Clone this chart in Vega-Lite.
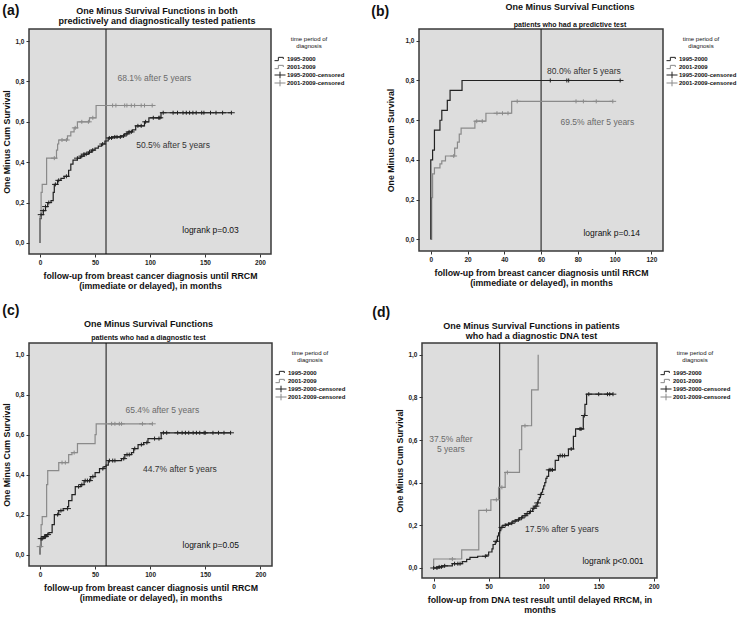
{
  "$schema": "https://vega.github.io/schema/vega-lite/v6.json",
  "padding": {"top": 1, "left": 2, "right": 0, "bottom": 0},
  "background": "white",
  "config": {
    "font": "Liberation Sans",
    "view": {"fill": "#dddddd", "stroke": "#3a3a3a", "strokeWidth": 1.5},
    "axis": {"domain": false, "grid": false, "tickColor": "#333333", "tickSize": 3, "labelFontSize": 6.5, "labelFontWeight": "bold", "labelColor": "#222222", "labelPadding": 2, "titleFontSize": 8.8, "titleFontWeight": "bold", "titleColor": "#111111", "titleLineHeight": 10},
    "axisX": {"titlePadding": 6},
    "axisY": {"titlePadding": 3},
    "title": {"fontSize": 9, "fontWeight": "bold", "color": "#111111", "lineHeight": 10, "subtitleFontSize": 7, "subtitleFontWeight": "bold", "subtitleColor": "#111111", "frame": "group"},
    "legend": {"orient": "right", "offset": -4, "padding": 7, "titleFontSize": 6, "titleFontWeight": "normal", "titleColor": "#111111", "titleAlign": "center", "titleAnchor": "middle", "titleLineHeight": 7, "titlePadding": 6, "labelFontSize": 6, "labelFontWeight": "bold", "labelColor": "#111111", "labelOffset": 1, "symbolSize": 121, "symbolStrokeWidth": 1, "rowPadding": 0, "clipHeight": 8},
    "concat": {"spacing": 18}
  },
  "datasets": {
    "ref": [{"t": 60}],
    "a_line": [
      {"t":0,"v":0,"series":"1995-2000"},{"t":0,"v":0.12,"series":"1995-2000"},{"t":1,"v":0.14,"series":"1995-2000"},{"t":3,"v":0.16,"series":"1995-2000"},{"t":5,"v":0.18,"series":"1995-2000"},{"t":7,"v":0.2,"series":"1995-2000"},{"t":10,"v":0.21,"series":"1995-2000"},{"t":12,"v":0.25,"series":"1995-2000"},{"t":13,"v":0.29,"series":"1995-2000"},{"t":16,"v":0.31,"series":"1995-2000"},{"t":19,"v":0.32,"series":"1995-2000"},{"t":22,"v":0.33,"series":"1995-2000"},{"t":26,"v":0.36,"series":"1995-2000"},{"t":28,"v":0.39,"series":"1995-2000"},{"t":30,"v":0.41,"series":"1995-2000"},{"t":34,"v":0.42,"series":"1995-2000"},{"t":37,"v":0.43,"series":"1995-2000"},{"t":40,"v":0.44,"series":"1995-2000"},{"t":44,"v":0.45,"series":"1995-2000"},{"t":47,"v":0.46,"series":"1995-2000"},{"t":50,"v":0.47,"series":"1995-2000"},{"t":53,"v":0.48,"series":"1995-2000"},{"t":56,"v":0.49,"series":"1995-2000"},{"t":59,"v":0.505,"series":"1995-2000"},{"t":62,"v":0.52,"series":"1995-2000"},{"t":66,"v":0.525,"series":"1995-2000"},{"t":74,"v":0.53,"series":"1995-2000"},{"t":77,"v":0.54,"series":"1995-2000"},{"t":80,"v":0.55,"series":"1995-2000"},{"t":84,"v":0.56,"series":"1995-2000"},{"t":87,"v":0.58,"series":"1995-2000"},{"t":95,"v":0.6,"series":"1995-2000"},{"t":99,"v":0.62,"series":"1995-2000"},{"t":110,"v":0.645,"series":"1995-2000"},{"t":174,"v":0.645,"series":"1995-2000"},
      {"t":0,"v":0,"series":"2001-2009"},{"t":0,"v":0.13,"series":"2001-2009"},{"t":1,"v":0.25,"series":"2001-2009"},{"t":2,"v":0.29,"series":"2001-2009"},{"t":6,"v":0.42,"series":"2001-2009"},{"t":15,"v":0.46,"series":"2001-2009"},{"t":16,"v":0.49,"series":"2001-2009"},{"t":17,"v":0.51,"series":"2001-2009"},{"t":25,"v":0.53,"series":"2001-2009"},{"t":28,"v":0.55,"series":"2001-2009"},{"t":31,"v":0.57,"series":"2001-2009"},{"t":34,"v":0.6,"series":"2001-2009"},{"t":45,"v":0.62,"series":"2001-2009"},{"t":51,"v":0.681,"series":"2001-2009"},{"t":102,"v":0.681,"series":"2001-2009"}
    ],
    "a_cens": [
      {"t":1,"v":0.14,"series":"1995-2000-censored"},{"t":3,"v":0.16,"series":"1995-2000-censored"},{"t":5,"v":0.18,"series":"1995-2000-censored"},{"t":8,"v":0.2,"series":"1995-2000-censored"},{"t":14,"v":0.29,"series":"1995-2000-censored"},{"t":17,"v":0.31,"series":"1995-2000-censored"},{"t":24,"v":0.33,"series":"1995-2000-censored"},{"t":34,"v":0.42,"series":"1995-2000-censored"},{"t":38,"v":0.43,"series":"1995-2000-censored"},{"t":40,"v":0.44,"series":"1995-2000-censored"},{"t":42,"v":0.44,"series":"1995-2000-censored"},{"t":45,"v":0.45,"series":"1995-2000-censored"},{"t":48,"v":0.46,"series":"1995-2000-censored"},{"t":57,"v":0.49,"series":"1995-2000-censored"},{"t":63,"v":0.52,"series":"1995-2000-censored"},{"t":65,"v":0.52,"series":"1995-2000-censored"},{"t":68,"v":0.525,"series":"1995-2000-censored"},{"t":70,"v":0.525,"series":"1995-2000-censored"},{"t":73,"v":0.525,"series":"1995-2000-censored"},{"t":76,"v":0.53,"series":"1995-2000-censored"},{"t":79,"v":0.54,"series":"1995-2000-censored"},{"t":81,"v":0.55,"series":"1995-2000-censored"},{"t":83,"v":0.55,"series":"1995-2000-censored"},{"t":89,"v":0.58,"series":"1995-2000-censored"},{"t":92,"v":0.58,"series":"1995-2000-censored"},{"t":96,"v":0.6,"series":"1995-2000-censored"},{"t":103,"v":0.62,"series":"1995-2000-censored"},{"t":108,"v":0.62,"series":"1995-2000-censored"},{"t":109,"v":0.62,"series":"1995-2000-censored"},{"t":112,"v":0.645,"series":"1995-2000-censored"},{"t":121,"v":0.645,"series":"1995-2000-censored"},{"t":125,"v":0.645,"series":"1995-2000-censored"},{"t":130,"v":0.645,"series":"1995-2000-censored"},{"t":133,"v":0.645,"series":"1995-2000-censored"},{"t":136,"v":0.645,"series":"1995-2000-censored"},{"t":139,"v":0.645,"series":"1995-2000-censored"},{"t":142,"v":0.645,"series":"1995-2000-censored"},{"t":147,"v":0.645,"series":"1995-2000-censored"},{"t":149,"v":0.645,"series":"1995-2000-censored"},{"t":155,"v":0.645,"series":"1995-2000-censored"},{"t":160,"v":0.645,"series":"1995-2000-censored"},{"t":166,"v":0.645,"series":"1995-2000-censored"},{"t":174,"v":0.645,"series":"1995-2000-censored"},
      {"t":13,"v":0.42,"series":"2001-2009-censored"},{"t":20,"v":0.51,"series":"2001-2009-censored"},{"t":24,"v":0.51,"series":"2001-2009-censored"},{"t":32,"v":0.57,"series":"2001-2009-censored"},{"t":38,"v":0.6,"series":"2001-2009-censored"},{"t":44,"v":0.6,"series":"2001-2009-censored"},{"t":48,"v":0.62,"series":"2001-2009-censored"},{"t":66,"v":0.681,"series":"2001-2009-censored"},{"t":69,"v":0.681,"series":"2001-2009-censored"},{"t":77,"v":0.681,"series":"2001-2009-censored"},{"t":79,"v":0.681,"series":"2001-2009-censored"},{"t":83,"v":0.681,"series":"2001-2009-censored"},{"t":86,"v":0.681,"series":"2001-2009-censored"},{"t":92,"v":0.681,"series":"2001-2009-censored"},{"t":95,"v":0.681,"series":"2001-2009-censored"},{"t":102,"v":0.681,"series":"2001-2009-censored"}
    ],
    "a_text": [
      {"t":104,"v":0.817,"label":"68.1% after 5 years","series":"2001-2009"},
      {"t":121,"v":0.487,"label":"50.5% after 5 years","series":"1995-2000"},
      {"t":155,"v":0.064,"label":"logrank p=0.03","series":"test"}
    ],
    "b_line": [
      {"t":0,"v":0,"series":"2001-2009"},{"t":0.5,"v":0.21,"series":"2001-2009"},{"t":1,"v":0.33,"series":"2001-2009"},{"t":2,"v":0.36,"series":"2001-2009"},{"t":5,"v":0.38,"series":"2001-2009"},{"t":6,"v":0.395,"series":"2001-2009"},{"t":8,"v":0.42,"series":"2001-2009"},{"t":13,"v":0.46,"series":"2001-2009"},{"t":14.5,"v":0.49,"series":"2001-2009"},{"t":15.5,"v":0.53,"series":"2001-2009"},{"t":16.5,"v":0.56,"series":"2001-2009"},{"t":24,"v":0.595,"series":"2001-2009"},{"t":30,"v":0.635,"series":"2001-2009"},{"t":44,"v":0.695,"series":"2001-2009"},{"t":99,"v":0.695,"series":"2001-2009"},
      {"t":0,"v":0,"series":"1995-2000"},{"t":0,"v":0.4,"series":"1995-2000"},{"t":1,"v":0.45,"series":"1995-2000"},{"t":2,"v":0.55,"series":"1995-2000"},{"t":5,"v":0.6,"series":"1995-2000"},{"t":6,"v":0.65,"series":"1995-2000"},{"t":9,"v":0.7,"series":"1995-2000"},{"t":10.5,"v":0.75,"series":"1995-2000"},{"t":17,"v":0.8,"series":"1995-2000"},{"t":103,"v":0.8,"series":"1995-2000"}
    ],
    "b_cens": [
      {"t":65,"v":0.8,"series":"1995-2000-censored"},{"t":74,"v":0.8,"series":"1995-2000-censored"},{"t":75,"v":0.8,"series":"1995-2000-censored"},{"t":103,"v":0.8,"series":"1995-2000-censored"},
      {"t":12.5,"v":0.42,"series":"2001-2009-censored"},{"t":25,"v":0.595,"series":"2001-2009-censored"},{"t":28,"v":0.595,"series":"2001-2009-censored"},{"t":36,"v":0.635,"series":"2001-2009-censored"},{"t":39,"v":0.635,"series":"2001-2009-censored"},{"t":42,"v":0.635,"series":"2001-2009-censored"},{"t":47,"v":0.695,"series":"2001-2009-censored"},{"t":79,"v":0.695,"series":"2001-2009-censored"},{"t":83,"v":0.695,"series":"2001-2009-censored"},{"t":90,"v":0.695,"series":"2001-2009-censored"},{"t":99,"v":0.695,"series":"2001-2009-censored"}
    ],
    "b_text": [
      {"t":83.3,"v":0.849,"label":"80.0% after 5 years","series":"1995-2000"},
      {"t":90.6,"v":0.59,"label":"69.5% after 5 years","series":"2001-2009"},
      {"t":98.4,"v":0.032,"label":"logrank p=0.14","series":"test"}
    ],
    "c_line": [
      {"t":0,"v":0,"series":"1995-2000"},{"t":0,"v":0.04,"series":"1995-2000"},{"t":1,"v":0.08,"series":"1995-2000"},{"t":3,"v":0.09,"series":"1995-2000"},{"t":6,"v":0.1,"series":"1995-2000"},{"t":8,"v":0.11,"series":"1995-2000"},{"t":11,"v":0.15,"series":"1995-2000"},{"t":13,"v":0.2,"series":"1995-2000"},{"t":17,"v":0.22,"series":"1995-2000"},{"t":21,"v":0.23,"series":"1995-2000"},{"t":25,"v":0.24,"series":"1995-2000"},{"t":26,"v":0.27,"series":"1995-2000"},{"t":29,"v":0.3,"series":"1995-2000"},{"t":32,"v":0.34,"series":"1995-2000"},{"t":37,"v":0.35,"series":"1995-2000"},{"t":40,"v":0.37,"series":"1995-2000"},{"t":46,"v":0.39,"series":"1995-2000"},{"t":50,"v":0.41,"series":"1995-2000"},{"t":54,"v":0.43,"series":"1995-2000"},{"t":58,"v":0.44,"series":"1995-2000"},{"t":60,"v":0.447,"series":"1995-2000"},{"t":62,"v":0.47,"series":"1995-2000"},{"t":74,"v":0.48,"series":"1995-2000"},{"t":77,"v":0.5,"series":"1995-2000"},{"t":83,"v":0.51,"series":"1995-2000"},{"t":85,"v":0.53,"series":"1995-2000"},{"t":89,"v":0.55,"series":"1995-2000"},{"t":94,"v":0.56,"series":"1995-2000"},{"t":98,"v":0.58,"series":"1995-2000"},{"t":110,"v":0.609,"series":"1995-2000"},{"t":173,"v":0.609,"series":"1995-2000"},
      {"t":0,"v":0,"series":"2001-2009"},{"t":0,"v":0.04,"series":"2001-2009"},{"t":1,"v":0.15,"series":"2001-2009"},{"t":2,"v":0.19,"series":"2001-2009"},{"t":6,"v":0.35,"series":"2001-2009"},{"t":7,"v":0.42,"series":"2001-2009"},{"t":17,"v":0.46,"series":"2001-2009"},{"t":26,"v":0.5,"series":"2001-2009"},{"t":29,"v":0.51,"series":"2001-2009"},{"t":34,"v":0.555,"series":"2001-2009"},{"t":50,"v":0.6,"series":"2001-2009"},{"t":51,"v":0.654,"series":"2001-2009"},{"t":102,"v":0.654,"series":"2001-2009"}
    ],
    "c_cens": [
      {"t":1,"v":0.08,"series":"1995-2000-censored"},{"t":2,"v":0.08,"series":"1995-2000-censored"},{"t":4,"v":0.09,"series":"1995-2000-censored"},{"t":5,"v":0.09,"series":"1995-2000-censored"},{"t":7,"v":0.1,"series":"1995-2000-censored"},{"t":16,"v":0.2,"series":"1995-2000-censored"},{"t":19,"v":0.22,"series":"1995-2000-censored"},{"t":25,"v":0.23,"series":"1995-2000-censored"},{"t":35,"v":0.34,"series":"1995-2000-censored"},{"t":38,"v":0.35,"series":"1995-2000-censored"},{"t":41,"v":0.37,"series":"1995-2000-censored"},{"t":43,"v":0.37,"series":"1995-2000-censored"},{"t":45,"v":0.37,"series":"1995-2000-censored"},{"t":48,"v":0.39,"series":"1995-2000-censored"},{"t":57,"v":0.43,"series":"1995-2000-censored"},{"t":63,"v":0.47,"series":"1995-2000-censored"},{"t":66,"v":0.47,"series":"1995-2000-censored"},{"t":68,"v":0.47,"series":"1995-2000-censored"},{"t":76,"v":0.48,"series":"1995-2000-censored"},{"t":79,"v":0.5,"series":"1995-2000-censored"},{"t":81,"v":0.5,"series":"1995-2000-censored"},{"t":86,"v":0.53,"series":"1995-2000-censored"},{"t":92,"v":0.55,"series":"1995-2000-censored"},{"t":97,"v":0.56,"series":"1995-2000-censored"},{"t":104,"v":0.58,"series":"1995-2000-censored"},{"t":108,"v":0.58,"series":"1995-2000-censored"},{"t":112,"v":0.609,"series":"1995-2000-censored"},{"t":115,"v":0.609,"series":"1995-2000-censored"},{"t":125,"v":0.609,"series":"1995-2000-censored"},{"t":129,"v":0.609,"series":"1995-2000-censored"},{"t":132,"v":0.609,"series":"1995-2000-censored"},{"t":135,"v":0.609,"series":"1995-2000-censored"},{"t":139,"v":0.609,"series":"1995-2000-censored"},{"t":142,"v":0.609,"series":"1995-2000-censored"},{"t":145,"v":0.609,"series":"1995-2000-censored"},{"t":149,"v":0.609,"series":"1995-2000-censored"},{"t":150,"v":0.609,"series":"1995-2000-censored"},{"t":157,"v":0.609,"series":"1995-2000-censored"},{"t":162,"v":0.609,"series":"1995-2000-censored"},{"t":167,"v":0.609,"series":"1995-2000-censored"},{"t":173,"v":0.609,"series":"1995-2000-censored"},
      {"t":0,"v":0.04,"series":"2001-2009-censored"},{"t":20,"v":0.46,"series":"2001-2009-censored"},{"t":23,"v":0.46,"series":"2001-2009-censored"},{"t":31,"v":0.51,"series":"2001-2009-censored"},{"t":65,"v":0.654,"series":"2001-2009-censored"},{"t":68,"v":0.654,"series":"2001-2009-censored"},{"t":72,"v":0.654,"series":"2001-2009-censored"},{"t":74,"v":0.654,"series":"2001-2009-censored"},{"t":93,"v":0.654,"series":"2001-2009-censored"},{"t":102,"v":0.654,"series":"2001-2009-censored"}
    ],
    "c_text": [
      {"t":111,"v":0.724,"label":"65.4% after 5 years","series":"2001-2009"},
      {"t":127,"v":0.429,"label":"44.7% after 5 years","series":"1995-2000"},
      {"t":155,"v":0.046,"label":"logrank p=0.05","series":"test"}
    ],
    "d_line": [
      {"t":0,"v":0,"series":"2001-2009"},{"t":0,"v":0.042,"series":"2001-2009"},{"t":25.5,"v":0.085,"series":"2001-2009"},{"t":41,"v":0.27,"series":"2001-2009"},{"t":52,"v":0.32,"series":"2001-2009"},{"t":59,"v":0.378,"series":"2001-2009"},{"t":65,"v":0.448,"series":"2001-2009"},{"t":78,"v":0.555,"series":"2001-2009"},{"t":80,"v":0.667,"series":"2001-2009"},{"t":89,"v":0.835,"series":"2001-2009"},{"t":95,"v":1.0,"series":"2001-2009"},
      {"t":0,"v":0,"series":"1995-2000"},{"t":4,"v":0.005,"series":"1995-2000"},{"t":8,"v":0.01,"series":"1995-2000"},{"t":17,"v":0.02,"series":"1995-2000"},{"t":26,"v":0.03,"series":"1995-2000"},{"t":30,"v":0.04,"series":"1995-2000"},{"t":33,"v":0.05,"series":"1995-2000"},{"t":40,"v":0.055,"series":"1995-2000"},{"t":48,"v":0.06,"series":"1995-2000"},{"t":50,"v":0.075,"series":"1995-2000"},{"t":53,"v":0.09,"series":"1995-2000"},{"t":54,"v":0.11,"series":"1995-2000"},{"t":56,"v":0.125,"series":"1995-2000"},{"t":58,"v":0.15,"series":"1995-2000"},{"t":59,"v":0.165,"series":"1995-2000"},{"t":60,"v":0.175,"series":"1995-2000"},{"t":61,"v":0.19,"series":"1995-2000"},{"t":63,"v":0.2,"series":"1995-2000"},{"t":66,"v":0.205,"series":"1995-2000"},{"t":69,"v":0.21,"series":"1995-2000"},{"t":72,"v":0.22,"series":"1995-2000"},{"t":75,"v":0.226,"series":"1995-2000"},{"t":78,"v":0.235,"series":"1995-2000"},{"t":81,"v":0.245,"series":"1995-2000"},{"t":84,"v":0.255,"series":"1995-2000"},{"t":87,"v":0.265,"series":"1995-2000"},{"t":90,"v":0.28,"series":"1995-2000"},{"t":92,"v":0.29,"series":"1995-2000"},{"t":94,"v":0.305,"series":"1995-2000"},{"t":95,"v":0.32,"series":"1995-2000"},{"t":96,"v":0.33,"series":"1995-2000"},{"t":97,"v":0.345,"series":"1995-2000"},{"t":98,"v":0.355,"series":"1995-2000"},{"t":99,"v":0.37,"series":"1995-2000"},{"t":100,"v":0.385,"series":"1995-2000"},{"t":101,"v":0.4,"series":"1995-2000"},{"t":102,"v":0.42,"series":"1995-2000"},{"t":103,"v":0.43,"series":"1995-2000"},{"t":104.5,"v":0.46,"series":"1995-2000"},{"t":110.5,"v":0.505,"series":"1995-2000"},{"t":113.5,"v":0.527,"series":"1995-2000"},{"t":122.5,"v":0.558,"series":"1995-2000"},{"t":127,"v":0.617,"series":"1995-2000"},{"t":129,"v":0.652,"series":"1995-2000"},{"t":136,"v":0.715,"series":"1995-2000"},{"t":137.5,"v":0.767,"series":"1995-2000"},{"t":139,"v":0.815,"series":"1995-2000"},{"t":163,"v":0.815,"series":"1995-2000"}
    ],
    "d_cens": [
      {"t":0,"v":0,"series":"1995-2000-censored"},{"t":3,"v":0,"series":"1995-2000-censored"},{"t":5,"v":0.005,"series":"1995-2000-censored"},{"t":7,"v":0.005,"series":"1995-2000-censored"},{"t":10,"v":0.01,"series":"1995-2000-censored"},{"t":19,"v":0.02,"series":"1995-2000-censored"},{"t":22,"v":0.02,"series":"1995-2000-censored"},{"t":24,"v":0.02,"series":"1995-2000-censored"},{"t":47,"v":0.055,"series":"1995-2000-censored"},{"t":57,"v":0.125,"series":"1995-2000-censored"},{"t":62,"v":0.19,"series":"1995-2000-censored"},{"t":65,"v":0.2,"series":"1995-2000-censored"},{"t":68,"v":0.205,"series":"1995-2000-censored"},{"t":71,"v":0.21,"series":"1995-2000-censored"},{"t":74,"v":0.22,"series":"1995-2000-censored"},{"t":77,"v":0.226,"series":"1995-2000-censored"},{"t":80,"v":0.235,"series":"1995-2000-censored"},{"t":83,"v":0.245,"series":"1995-2000-censored"},{"t":85,"v":0.255,"series":"1995-2000-censored"},{"t":88,"v":0.265,"series":"1995-2000-censored"},{"t":91,"v":0.28,"series":"1995-2000-censored"},{"t":93,"v":0.29,"series":"1995-2000-censored"},{"t":94.5,"v":0.305,"series":"1995-2000-censored"},{"t":97.5,"v":0.345,"series":"1995-2000-censored"},{"t":105,"v":0.46,"series":"1995-2000-censored"},{"t":106.5,"v":0.46,"series":"1995-2000-censored"},{"t":108,"v":0.46,"series":"1995-2000-censored"},{"t":115,"v":0.527,"series":"1995-2000-censored"},{"t":117,"v":0.527,"series":"1995-2000-censored"},{"t":119,"v":0.527,"series":"1995-2000-censored"},{"t":125,"v":0.558,"series":"1995-2000-censored"},{"t":133,"v":0.652,"series":"1995-2000-censored"},{"t":134,"v":0.652,"series":"1995-2000-censored"},{"t":137,"v":0.715,"series":"1995-2000-censored"},{"t":141,"v":0.815,"series":"1995-2000-censored"},{"t":150,"v":0.815,"series":"1995-2000-censored"},{"t":158,"v":0.815,"series":"1995-2000-censored"},{"t":160,"v":0.815,"series":"1995-2000-censored"},{"t":163,"v":0.815,"series":"1995-2000-censored"},
      {"t":17,"v":0.042,"series":"2001-2009-censored"},{"t":48,"v":0.27,"series":"2001-2009-censored"},{"t":57,"v":0.32,"series":"2001-2009-censored"},{"t":62,"v":0.378,"series":"2001-2009-censored"},{"t":67,"v":0.448,"series":"2001-2009-censored"},{"t":83,"v":0.667,"series":"2001-2009-censored"}
    ],
    "d_text": [
      {"t":15.7,"v":0.603,"label":"37.5% after\n5 years","series":"2001-2009"},
      {"t":116.5,"v":0.183,"label":"17.5% after 5 years","series":"1995-2000"},
      {"t":163,"v":0.034,"label":"logrank p<0.001","series":"test"}
    ]
  },
  "resolve": {"scale": {"color": "independent", "shape": "independent"}, "legend": {"color": "independent", "shape": "independent"}},
  "spacing": 12,
  "vconcat": [
    {
      "resolve": {"scale": {"color": "independent", "shape": "independent"}, "legend": {"color": "independent", "shape": "independent"}},
      "hconcat": [
        {
          "title": {"text": "(a)", "anchor": "start", "frame": "bounds", "fontSize": 14, "offset": -12},
          "resolve": {"scale": {"color": "independent", "shape": "independent"}, "legend": {"color": "independent", "shape": "independent"}},
          "vconcat": [
            {
              "width": 242, "height": 225,
              "title": {"text": ["One Minus Survival Functions in both", "predictively and diagnostically tested patients"], "offset": 3, "dx": 7},
              "layer": [
                {"data": {"name": "ref"}, "mark": {"type": "rule", "color": "#111111", "strokeWidth": 1}, "encoding": {"x": {"field": "t", "type": "quantitative", "scale": {"domain": [-10, 210], "nice": false, "zero": false}}}},
                {"data": {"name": "a_line"}, "mark": {"type": "line", "interpolate": "step-after", "strokeWidth": 1.2},
                 "encoding": {
                   "x": {"field": "t", "type": "quantitative", "scale": {"domain": [-10, 210], "nice": false, "zero": false}, "axis": {"values": [0, 50, 100, 150, 200], "title": ["follow-up from breast cancer diagnosis until RRCM", "(immediate or delayed), in months"]}},
                   "y": {"field": "v", "type": "quantitative", "scale": {"domain": [-0.055, 1.06], "nice": false, "zero": false}, "axis": {"values": [0, 0.2, 0.4, 0.6, 0.8, 1], "labelExpr": "replace(format(datum.value, '.1f'), '.', ',')", "title": "One Minus Cum Survival"}},
                   "detail": {"field": "series"},
                   "order": {"value": null},
                   "color": {"condition": {"test": "datum.series === '1995-2000'", "value": "#222222"}, "value": "#8a8a8a"}
                 }},
                {"data": {"name": "a_cens"}, "mark": {"type": "point", "filled": false, "size": 45, "strokeWidth": 1, "opacity": 1},
                 "encoding": {
                   "x": {"field": "t", "type": "quantitative"},
                   "y": {"field": "v", "type": "quantitative"},
                   "color": {"field": "series", "type": "nominal", "scale": {"domain": ["1995-2000", "2001-2009", "1995-2000-censored", "2001-2009-censored"], "range": ["#222222", "#8a8a8a", "#222222", "#8a8a8a"]}, "legend": {"title": ["time period of", "diagnosis"]}},
                   "shape": {"field": "series", "type": "nominal", "scale": {"domain": ["1995-2000", "2001-2009", "1995-2000-censored", "2001-2009-censored"], "range": ["M-1,0.3H-0.3V-0.3H0.6V0", "M-1,0.3H-0.3V-0.3H0.6V0", "M-1,0H1M0,-0.6V0.6", "M-1,0H1M0,-0.6V0.6"]}, "legend": {"title": ["time period of", "diagnosis"]}}
                 }},
                {"data": {"name": "a_text"}, "mark": {"type": "text", "fontSize": 8.5, "lineBreak": "\n", "lineHeight": 10},
                 "encoding": {
                   "x": {"field": "t", "type": "quantitative"},
                   "y": {"field": "v", "type": "quantitative"},
                   "text": {"field": "label"},
                   "color": {"condition": [{"test": "datum.series === '2001-2009'", "value": "#6a6a6a"}, {"test": "datum.series === '1995-2000'", "value": "#333333"}], "value": "#111111"}
                 }}
              ]
            }
          ]
        },
        {
          "title": {"text": "(b)", "anchor": "start", "frame": "bounds", "fontSize": 14, "offset": -17, "dx": -15},
          "resolve": {"scale": {"color": "independent", "shape": "independent"}, "legend": {"color": "independent", "shape": "independent"}},
          "vconcat": [
            {
              "width": 244, "height": 222,
              "title": {"text": "One Minus Survival Functions", "subtitle": "patients who had a predictive test", "offset": 1, "dx": 29, "subtitlePadding": 9},
              "layer": [
                {"data": {"name": "ref"}, "mark": {"type": "rule", "color": "#111111", "strokeWidth": 1}, "encoding": {"x": {"field": "t", "type": "quantitative", "scale": {"domain": [-6.4, 126.3], "nice": false, "zero": false}}}},
                {"data": {"name": "b_line"}, "mark": {"type": "line", "interpolate": "step-after", "strokeWidth": 1.2},
                 "encoding": {
                   "x": {"field": "t", "type": "quantitative", "scale": {"domain": [-6.4, 126.3], "nice": false, "zero": false}, "axis": {"values": [0, 20, 40, 60, 80, 100, 120], "title": ["follow-up from breast cancer diagnosis until RRCM", "(immediate or delayed), in months"]}},
                   "y": {"field": "v", "type": "quantitative", "scale": {"domain": [-0.058, 1.059], "nice": false, "zero": false}, "axis": {"values": [0, 0.2, 0.4, 0.6, 0.8, 1], "labelExpr": "replace(format(datum.value, '.1f'), '.', ',')", "title": "One Minus Cum Survival", "titlePadding": 9}},
                   "detail": {"field": "series"},
                   "order": {"value": null},
                   "color": {"condition": {"test": "datum.series === '1995-2000'", "value": "#222222"}, "value": "#8a8a8a"}
                 }},
                {"data": {"name": "b_cens"}, "mark": {"type": "point", "filled": false, "size": 45, "strokeWidth": 1, "opacity": 1},
                 "encoding": {
                   "x": {"field": "t", "type": "quantitative"},
                   "y": {"field": "v", "type": "quantitative"},
                   "color": {"field": "series", "type": "nominal", "scale": {"domain": ["1995-2000", "2001-2009", "1995-2000-censored", "2001-2009-censored"], "range": ["#222222", "#8a8a8a", "#222222", "#8a8a8a"]}, "legend": {"title": ["time period of", "diagnosis"]}},
                   "shape": {"field": "series", "type": "nominal", "scale": {"domain": ["1995-2000", "2001-2009", "1995-2000-censored", "2001-2009-censored"], "range": ["M-1,0.3H-0.3V-0.3H0.6V0", "M-1,0.3H-0.3V-0.3H0.6V0", "M-1,0H1M0,-0.6V0.6", "M-1,0H1M0,-0.6V0.6"]}, "legend": {"title": ["time period of", "diagnosis"]}}
                 }},
                {"data": {"name": "b_text"}, "mark": {"type": "text", "fontSize": 8.5, "lineBreak": "\n", "lineHeight": 10},
                 "encoding": {
                   "x": {"field": "t", "type": "quantitative"},
                   "y": {"field": "v", "type": "quantitative"},
                   "text": {"field": "label"},
                   "color": {"condition": [{"test": "datum.series === '2001-2009'", "value": "#6a6a6a"}, {"test": "datum.series === '1995-2000'", "value": "#333333"}], "value": "#111111"}
                 }}
              ]
            }
          ]
        }
      ]
    },
    {
      "resolve": {"scale": {"color": "independent", "shape": "independent"}, "legend": {"color": "independent", "shape": "independent"}},
      "hconcat": [
        {
          "title": {"text": "(c)", "anchor": "start", "frame": "bounds", "fontSize": 14, "offset": 1},
          "resolve": {"scale": {"color": "independent", "shape": "independent"}, "legend": {"color": "independent", "shape": "independent"}},
          "vconcat": [
            {
              "width": 243, "height": 223,
              "title": {"text": "One Minus Survival Functions", "subtitle": "patients who had a diagnostic test", "offset": 1.5, "dx": -2, "subtitlePadding": 5},
              "layer": [
                {"data": {"name": "ref"}, "mark": {"type": "rule", "color": "#111111", "strokeWidth": 1}, "encoding": {"x": {"field": "t", "type": "quantitative", "scale": {"domain": [-10, 210.6], "nice": false, "zero": false}}}},
                {"data": {"name": "c_line"}, "mark": {"type": "line", "interpolate": "step-after", "strokeWidth": 1.2},
                 "encoding": {
                   "x": {"field": "t", "type": "quantitative", "scale": {"domain": [-10, 210.6], "nice": false, "zero": false}, "axis": {"values": [0, 50, 100, 150, 200], "title": ["follow-up from breast cancer diagnosis until RRCM", "(immediate or delayed), in months"]}},
                   "y": {"field": "v", "type": "quantitative", "scale": {"domain": [-0.057, 1.058], "nice": false, "zero": false}, "axis": {"values": [0, 0.2, 0.4, 0.6, 0.8, 1], "labelExpr": "replace(format(datum.value, '.1f'), '.', ',')", "title": "One Minus Cum Survival"}},
                   "detail": {"field": "series"},
                   "order": {"value": null},
                   "color": {"condition": {"test": "datum.series === '1995-2000'", "value": "#222222"}, "value": "#8a8a8a"}
                 }},
                {"data": {"name": "c_cens"}, "mark": {"type": "point", "filled": false, "size": 45, "strokeWidth": 1, "opacity": 1},
                 "encoding": {
                   "x": {"field": "t", "type": "quantitative"},
                   "y": {"field": "v", "type": "quantitative"},
                   "color": {"field": "series", "type": "nominal", "scale": {"domain": ["1995-2000", "2001-2009", "1995-2000-censored", "2001-2009-censored"], "range": ["#222222", "#8a8a8a", "#222222", "#8a8a8a"]}, "legend": {"title": ["time period of", "diagnosis"]}},
                   "shape": {"field": "series", "type": "nominal", "scale": {"domain": ["1995-2000", "2001-2009", "1995-2000-censored", "2001-2009-censored"], "range": ["M-1,0.3H-0.3V-0.3H0.6V0", "M-1,0.3H-0.3V-0.3H0.6V0", "M-1,0H1M0,-0.6V0.6", "M-1,0H1M0,-0.6V0.6"]}, "legend": {"title": ["time period of", "diagnosis"]}}
                 }},
                {"data": {"name": "c_text"}, "mark": {"type": "text", "fontSize": 8.5, "lineBreak": "\n", "lineHeight": 10},
                 "encoding": {
                   "x": {"field": "t", "type": "quantitative"},
                   "y": {"field": "v", "type": "quantitative"},
                   "text": {"field": "label"},
                   "color": {"condition": [{"test": "datum.series === '2001-2009'", "value": "#6a6a6a"}, {"test": "datum.series === '1995-2000'", "value": "#333333"}], "value": "#111111"}
                 }}
              ]
            }
          ]
        },
        {
          "title": {"text": "(d)", "anchor": "start", "frame": "bounds", "fontSize": 14, "offset": 1, "dx": -23},
          "resolve": {"scale": {"color": "independent", "shape": "independent"}, "legend": {"color": "independent", "shape": "independent"}},
          "vconcat": [
            {
              "width": 235, "height": 235,
              "title": {"text": ["One Minus Survival Functions in patients", "who had a diagnostic DNA test"], "offset": 1.5, "dx": -8},
              "layer": [
                {"data": {"name": "ref"}, "mark": {"type": "rule", "color": "#111111", "strokeWidth": 1}, "encoding": {"x": {"field": "t", "type": "quantitative", "scale": {"domain": [-10.6, 203], "nice": false, "zero": false}}}},
                {"data": {"name": "d_line"}, "mark": {"type": "line", "interpolate": "step-after", "strokeWidth": 1.2},
                 "encoding": {
                   "x": {"field": "t", "type": "quantitative", "scale": {"domain": [-10.6, 203], "nice": false, "zero": false}, "axis": {"values": [0, 50, 100, 150, 200], "title": ["follow-up from DNA test result until delayed RRCM, in", "months"]}},
                   "y": {"field": "v", "type": "quantitative", "scale": {"domain": [-0.047, 1.055], "nice": false, "zero": false}, "axis": {"values": [0, 0.2, 0.4, 0.6, 0.8, 1], "labelExpr": "replace(format(datum.value, '.1f'), '.', ',')", "title": "One Minus Cum Survival"}},
                   "detail": {"field": "series"},
                   "order": {"value": null},
                   "color": {"condition": {"test": "datum.series === '1995-2000'", "value": "#222222"}, "value": "#8a8a8a"}
                 }},
                {"data": {"name": "d_cens"}, "mark": {"type": "point", "filled": false, "size": 45, "strokeWidth": 1, "opacity": 1},
                 "encoding": {
                   "x": {"field": "t", "type": "quantitative"},
                   "y": {"field": "v", "type": "quantitative"},
                   "color": {"field": "series", "type": "nominal", "scale": {"domain": ["1995-2000", "2001-2009", "1995-2000-censored", "2001-2009-censored"], "range": ["#222222", "#8a8a8a", "#222222", "#8a8a8a"]}, "legend": {"title": ["time period of", "diagnosis"]}},
                   "shape": {"field": "series", "type": "nominal", "scale": {"domain": ["1995-2000", "2001-2009", "1995-2000-censored", "2001-2009-censored"], "range": ["M-1,0.3H-0.3V-0.3H0.6V0", "M-1,0.3H-0.3V-0.3H0.6V0", "M-1,0H1M0,-0.6V0.6", "M-1,0H1M0,-0.6V0.6"]}, "legend": {"title": ["time period of", "diagnosis"]}}
                 }},
                {"data": {"name": "d_text"}, "mark": {"type": "text", "fontSize": 8.5, "lineBreak": "\n", "lineHeight": 10},
                 "encoding": {
                   "x": {"field": "t", "type": "quantitative"},
                   "y": {"field": "v", "type": "quantitative"},
                   "text": {"field": "label"},
                   "color": {"condition": [{"test": "datum.series === '2001-2009'", "value": "#6a6a6a"}, {"test": "datum.series === '1995-2000'", "value": "#333333"}], "value": "#111111"}
                 }}
              ]
            }
          ]
        }
      ]
    }
  ]
}
